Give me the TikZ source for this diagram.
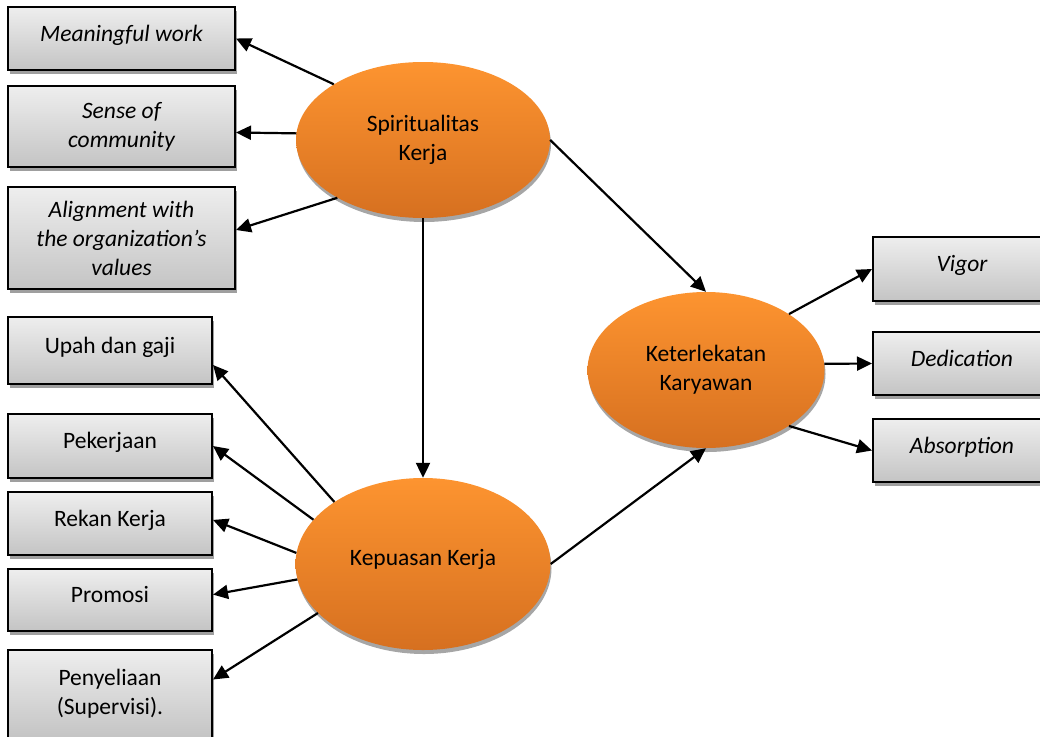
\documentclass[tikz,border=0pt]{standalone}
\usepackage{fontspec}
\setmainfont{Carlito}
\usetikzlibrary{shapes.geometric,shadows,arrows.meta}
\definecolor{oranyeAtas}{RGB}{253,148,48}
\definecolor{oranyeBawah}{RGB}{214,112,32}
\definecolor{abuAtas}{RGB}{238,238,238}
\definecolor{abuBawah}{RGB}{196,196,196}
\begin{document}
\begin{tikzpicture}[
      x=1pt, y=-1pt,
      font=\fontsize{23.5}{29}\selectfont,
      kotak/.style={draw=black, line width=2pt, top color=abuAtas, bottom color=abuBawah,
        inner sep=0pt,
        drop shadow={shadow xshift=2pt, shadow yshift=-4pt, fill=gray!75, opacity=1}},
      satu/.style={text height=20pt, text depth=15pt}, % one line of text, set a bit high
      bulat/.style={ellipse, top color=oranyeAtas, bottom color=oranyeBawah,
        align=center, inner sep=0pt,
        drop shadow={shadow xshift=1pt, shadow yshift=-4pt, fill=gray!70, opacity=1}},
      panah/.style={-{Triangle[length=15pt, width=14pt]}, line width=2.2pt}
    ]
      % frame of the page (1 unit = 1 pixel of the original)
      \useasboundingbox (0,0) rectangle (1040,736);
      \clip (0,0) rectangle (1040,736);

      % The three latent variables
      \node[bulat, minimum width=254pt, minimum height=156pt]
        (SK)
        at
        (423,140)
        {Spiritualitas\\Kerja};

      \node[bulat, minimum width=255pt, minimum height=172pt, text height=20pt, text depth=18pt]
        (KP)
        at
        (423,564)
        {Kepuasan Kerja};

      \node[bulat, minimum width=237pt, minimum height=156pt]
        (KT)
        at
        (706,370)
        {Keterlekatan\\Karyawan};

      % Indicators of Spiritualitas Kerja
      \node[kotak, satu, minimum width=227pt, minimum height=63pt]
        (M1) at (121.5,38.5) {\itshape Meaningful work};
      \node[kotak, align=center, minimum width=227pt, minimum height=81pt]
        (M2) at (121.5,126.5) {\itshape Sense of\\\itshape community};
      \node[kotak, align=center, minimum width=227pt, minimum height=102pt]
        (M3) at (121.5,238) {\itshape Alignment with\\\itshape the organization’s\\\itshape values};

      % Indicators of Kepuasan Kerja
      \node[kotak, satu, minimum width=204pt, minimum height=67pt]
        (P1) at (110,350.5) {Upah dan gaji};
      \node[kotak, satu, minimum width=204pt, minimum height=64pt]
        (P2) at (110,446) {Pekerjaan};
      \node[kotak, satu, minimum width=204pt, minimum height=63pt]
        (P3) at (110,523.5) {Rekan Kerja};
      \node[kotak, satu, minimum width=204pt, minimum height=62pt]
        (P4) at (110,600) {Promosi};
      \node[kotak, align=center, minimum width=204pt, minimum height=88pt]
        (P5) at (110,694) {Penyeliaan\\(Supervisi).};

      % Indicators of Keterlekatan Karyawan
      \node[kotak, satu, minimum width=178pt, minimum height=64pt]
        (E1) at (962,269) {\itshape Vigor};
      \node[kotak, satu, minimum width=178pt, minimum height=63pt]
        (E2) at (962,363.5) {\itshape Dedication};
      \node[kotak, satu, minimum width=178pt, minimum height=63pt]
        (E3) at (962,450.5) {\itshape Absorption};

      % Paths between the variables
      \draw[panah] (SK.south) -- (KP.north);
      \draw[panah] (SK.east) -- (KT.north);
      \draw[panah] (KP.east) -- (KT.south);

      % Arrows to the indicators
      \draw[panah] (SK.148) -- (M1.east);
      \draw[panah] (SK.177) -- (M2.-3);
      \draw[panah] (SK.214) -- (M3.4);

      \draw[panah] (KP.145) -- (P1.-8);
      \draw[panah] (KP.158) -- (P2.east);
      \draw[panah] (KP.175) -- (P3.2);
      \draw[panah] (KP.187) -- (P4.3);
      \draw[panah] (KP.205) -- (P5.8);

      \draw[panah] (KT.34) -- (E1.west);
      \draw[panah] (KT.3) -- (E2.west);
      \draw[panah] (KT.-34) -- (E3.west);
    \end{tikzpicture}
\end{document}
